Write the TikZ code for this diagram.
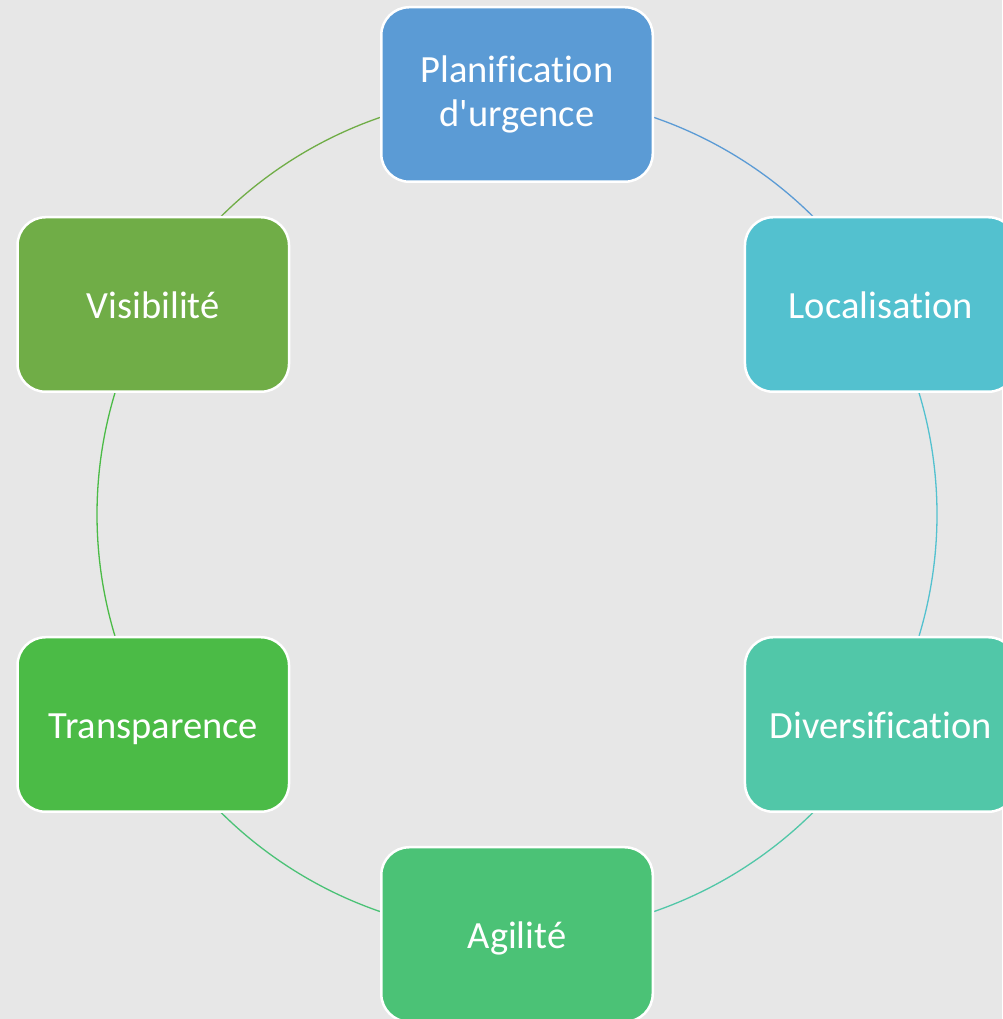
\documentclass[tikz,border=0pt]{standalone}
\usepackage{fontspec}
\newfontfamily\boxfont{Carlito}[Ligatures=NoCommon]
\usetikzlibrary{backgrounds,calc}
\definecolor{cA}{HTML}{5B9BD5}
\definecolor{cB}{HTML}{53C1CF}
\definecolor{cC}{HTML}{51C7A8}
\definecolor{cD}{HTML}{4BC276}
\definecolor{cE}{HTML}{4BBB46}
\definecolor{cF}{HTML}{70AD47}
\definecolor{bg}{HTML}{E7E7E7}
\tikzset{
  cyclebox/.style={draw=white, line width=2.5pt, rounded corners=28pt,
    minimum width=271.5pt, minimum height=174.5pt, inner sep=0pt,
    text=white, align=center, font=\boxfont\fontsize{38.5}{44.5}\selectfont,
    execute at begin node=\rule{0pt}{35pt},
    execute at end node=\vphantom{g}},
  cyclearc/.style={line width=1.3pt}
}
\begin{document}
\begin{tikzpicture}[x=1pt,y=1pt]
\useasboundingbox (0,0) rectangle (1002,1019);
\coordinate (c) at (517,504.5);
\node[cyclebox, fill=cA] (n1) at ($(c)+(90:420)$) {Planification\\d'urgence};
\node[cyclebox, fill=cB] (n2) at ($(c)+(30:420)$) {Localisation};
\node[cyclebox, fill=cC] (n3) at ($(c)+(-30:420)$) {Diversification};
\node[cyclebox, fill=cD] (n4) at ($(c)+(-90:420)$) {Agilité};
\node[cyclebox, fill=cE] (n5) at ($(c)+(-150:420)$) {Transparence};
\node[cyclebox, fill=cF] (n6) at ($(c)+(150:420)$) {Visibilité};
\begin{pgfonlayer}{background}
\fill[bg] (0,0) rectangle (1002,1019);
\draw[cyclearc, cA] (n1.center) arc[start angle=90, end angle=30, radius=420];
\draw[cyclearc, cB] (n2.center) arc[start angle=30, end angle=-30, radius=420];
\draw[cyclearc, cC] (n3.center) arc[start angle=-30, end angle=-90, radius=420];
\draw[cyclearc, cD] (n4.center) arc[start angle=-90, end angle=-150, radius=420];
\draw[cyclearc, cE] (n5.center) arc[start angle=-150, end angle=-210, radius=420];
\draw[cyclearc, cF] (n6.center) arc[start angle=150, end angle=90, radius=420];
\end{pgfonlayer}
\end{tikzpicture}
\end{document}
